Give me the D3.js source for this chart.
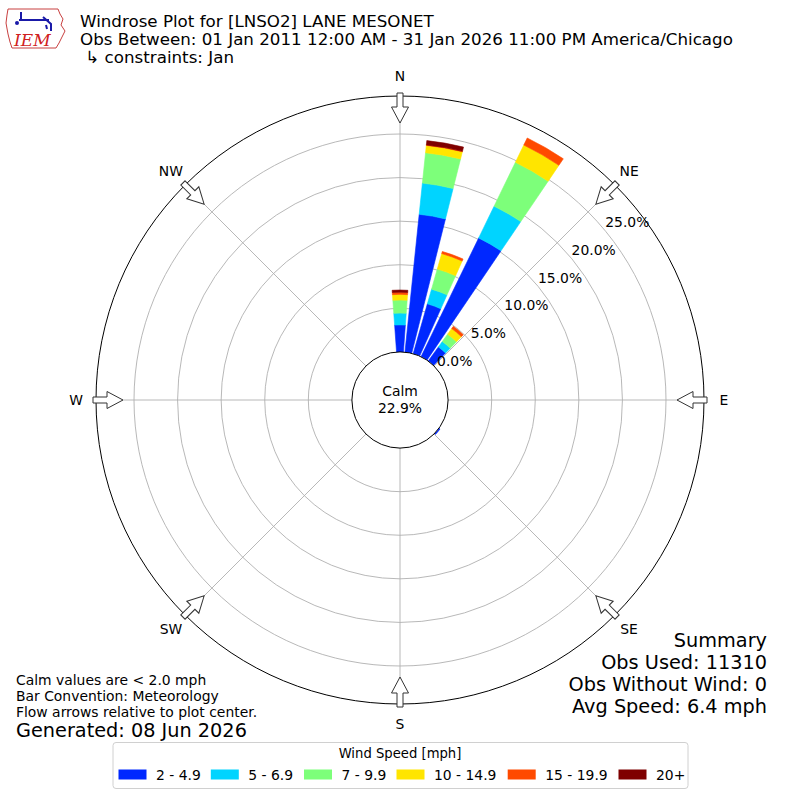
<!DOCTYPE html>
<html>
<head>
<meta charset="utf-8">
<script src="https://cdn.jsdelivr.net/npm/d3@7"></script>
<style>
  html, body { margin: 0; padding: 0; background: #fff; }
  svg { display: block; font-family: "DejaVu Sans", sans-serif; }
</style>
</head>
<body>
<svg id="chart" width="800" height="800"></svg>
<script>
// ---------------- DATA ----------------
const directions = [0, 10, 20, 30, 40, 130];          // degrees (from)
const speedBins = ["2 - 4.9", "5 - 6.9", "7 - 9.9", "10 - 14.9", "15 - 19.9", "20+"];
const binColors = ["#0028ff", "#00d4ff", "#7dff7a", "#ffe500", "#ff4a00", "#7f0000"];
// percent of observations per direction for each speed bin
const pct_2_5   = [3.10, 15.90, 5.95, 15.15, 2.00, 0.15];
const pct_5_7   = [1.35,  3.60, 1.75,  4.05, 0.76, 0.00];
const pct_7_10  = [1.50,  3.50, 2.40,  5.60, 1.04, 0.00];
const pct_10_15 = [0.65,  0.85, 1.85,  2.20, 0.80, 0.00];
const pct_15_20 = [0.25,  0.05, 0.25,  0.90, 0.31, 0.00];
const pct_20p   = [0.25,  0.50, 0.00,  0.00, 0.00, 0.00];
const ringTicks = [0, 5, 10, 15, 20, 25];
const compass = ["N", "NE", "E", "SE", "S", "SW", "W", "NW"];
const calmPct = "22.9%";
const titleLines = ["Windrose Plot for [LNSO2] LANE MESONET",
  "Obs Between: 01 Jan 2011 12:00 AM - 31 Jan 2026 11:00 PM America/Chicago",
  " \u21B3 constraints: Jan"];
const summaryLines = ["Summary", "Obs Used: 11310", "Obs Without Wind: 0", "Avg Speed: 6.4 mph"];
const noteLines = ["Calm values are < 2.0 mph", "Bar Convention: Meteorology", "Flow arrows relative to plot center."];
const generated = "Generated: 08 Jun 2026";

// ---------------- CHART ----------------
const series = [pct_2_5, pct_5_7, pct_7_10, pct_10_15, pct_15_20, pct_20p];
const svg = d3.select("#chart");
const cx = 400, cy = 400;
const small = 13.9, big = 19.3;
const r = d3.scaleLinear().domain([0, 29.36]).range([48.1, 304]);
const deg = Math.PI / 180;
const g = svg.append("g").attr("transform", `translate(${cx},${cy})`);

// grid rings
g.selectAll("circle.ring").data(ringTicks.filter(d => d > 0)).join("circle")
  .attr("r", d => r(d)).attr("fill", "none").attr("stroke", "#b0b0b0").attr("stroke-width", 0.9);
// radial lines
g.selectAll("line.spoke").data(d3.range(0, 360, 45)).join("line")
  .attr("x1", 0).attr("y1", 0)
  .attr("x2", d => Math.sin(d * deg) * r.range()[1])
  .attr("y2", d => -Math.cos(d * deg) * r.range()[1])
  .attr("stroke", "#b0b0b0").attr("stroke-width", 0.9);
// outer circle
g.append("circle").attr("r", r.range()[1]).attr("fill", "none").attr("stroke", "#000").attr("stroke-width", 1);

// bars
const arc = d3.arc();
const halfW = 4.1;
directions.forEach((dir, i) => {
  let cum = 0;
  series.forEach((s, b) => {
    const v = s[i];
    if (v <= 0) return;
    const path = arc({
      innerRadius: r(cum), outerRadius: r(cum + v),
      startAngle: (dir - halfW) * deg, endAngle: (dir + halfW) * deg
    });
    g.append("path").attr("d", path).attr("fill", binColors[b])
      .attr("stroke", binColors[b]).attr("stroke-width", 0.6);
    cum += v;
  });
});

// calm circle
g.append("circle").attr("r", r(0)).attr("fill", "#fff").attr("stroke", "#000").attr("stroke-width", 1);
g.append("text").attr("x", 0).attr("y", -9).attr("text-anchor", "middle").attr("dominant-baseline", "central")
  .attr("font-size", small).text("Calm");
g.append("text").attr("x", 0).attr("y", 7.5).attr("text-anchor", "middle").attr("dominant-baseline", "central")
  .attr("font-size", small).text(calmPct);

// ring labels
const labAng = 50.5 * deg;
g.selectAll("text.rlab").data(ringTicks).join("text")
  .attr("x", d => Math.sin(labAng) * r(d))
  .attr("y", d => -Math.cos(labAng) * r(d) - 8.5)
  .attr("dominant-baseline", "central").attr("font-size", small)
  .text(d => d.toFixed(1) + "%");

// arrows (flow toward center)
const arrowShape = "M0,-3 L14,-3 L14,-8.5 L30,0 L14,8.5 L14,3 L0,3 Z";
d3.range(0, 360, 45).forEach(a => {
  const tx = Math.sin(a * deg) * 307, ty = -Math.cos(a * deg) * 307;
  const rot = Math.atan2(-ty, -tx) / deg;
  g.append("path").attr("d", arrowShape)
    .attr("transform", `translate(${tx},${ty}) rotate(${rot})`)
    .attr("fill", "#fff").attr("stroke", "#333").attr("stroke-width", 1);
});

// compass labels
g.selectAll("text.comp").data(compass).join("text")
  .attr("x", (d, i) => Math.sin(i * 45 * deg) * 324)
  .attr("y", (d, i) => -Math.cos(i * 45 * deg) * 324)
  .attr("text-anchor", "middle").attr("dominant-baseline", "central")
  .attr("font-size", small).text(d => d);

// title (one text block, three lines)
const title = svg.append("text").attr("font-size", 16.7).attr("xml:space", "preserve");
title.selectAll("tspan").data(titleLines).join("tspan")
  .attr("x", 80).attr("y", (d, i) => 26.5 + i * 18.3)
  .text(d => d);

// summary
svg.selectAll("text.summ").data(summaryLines).join("text")
  .attr("x", 767).attr("y", (d, i) => 640 + i * 22)
  .attr("text-anchor", "end").attr("dominant-baseline", "central")
  .attr("font-size", big).text(d => d);

// notes
svg.selectAll("text.note").data(noteLines).join("text")
  .attr("x", 16).attr("y", (d, i) => 680 + i * 16)
  .attr("dominant-baseline", "central").attr("font-size", small).text(d => d);
svg.append("text").attr("x", 16).attr("y", 730).attr("dominant-baseline", "central")
  .attr("font-size", big).text(generated);

// legend
const lg = svg.append("g");
lg.append("rect").attr("x", 113).attr("y", 742.5).attr("width", 575).attr("height", 46)
  .attr("rx", 3).attr("fill", "#fff").attr("stroke", "#d0d0d0").attr("stroke-width", 1);
lg.append("text").attr("x", 400).attr("y", 753).attr("text-anchor", "middle")
  .attr("dominant-baseline", "central").attr("font-size", 13.2).text("Wind Speed [mph]");
const legXs = [118.5, 210.8, 304, 396.5, 507.7, 618.5];
speedBins.forEach((b, i) => {
  lg.append("rect").attr("x", legXs[i]).attr("y", 769.5).attr("width", 28).attr("height", 10)
    .attr("fill", binColors[i]);
  lg.append("text").attr("x", legXs[i] + 37.5).attr("y", 774.5).attr("dominant-baseline", "central")
    .attr("font-size", 13.9).text(b);
});

// IEM logo (approximate)
const logo = svg.append("g").attr("transform", "translate(5,5)");
logo.append("path")
  .attr("d", "M3,4 L53,4 L55,9 L58,14 L56,20 L60,26 L57,32 L54,38 L51,43 L7,43 L5,37 L3,29 L1,18 L2,10 Z")
  .attr("fill", "none").attr("stroke", "#c84040").attr("stroke-width", 1);
logo.append("path").attr("d", "M14,15 L44,15 M16,7 L16,15 M38,12 L46,19 L46,26 M41,20 L42,24")
  .attr("stroke", "#1a1aa8").attr("stroke-width", 2).attr("fill", "none");
logo.append("circle").attr("cx", 12).attr("cy", 18).attr("r", 2).attr("fill", "#1a1aa8");
logo.append("text").attr("x", 9).attr("y", 41).attr("font-family", "DejaVu Serif, serif")
  .attr("font-style", "italic").attr("font-size", 17).attr("fill", "#d02020").text("IEM");
</script>
</body>
</html>
